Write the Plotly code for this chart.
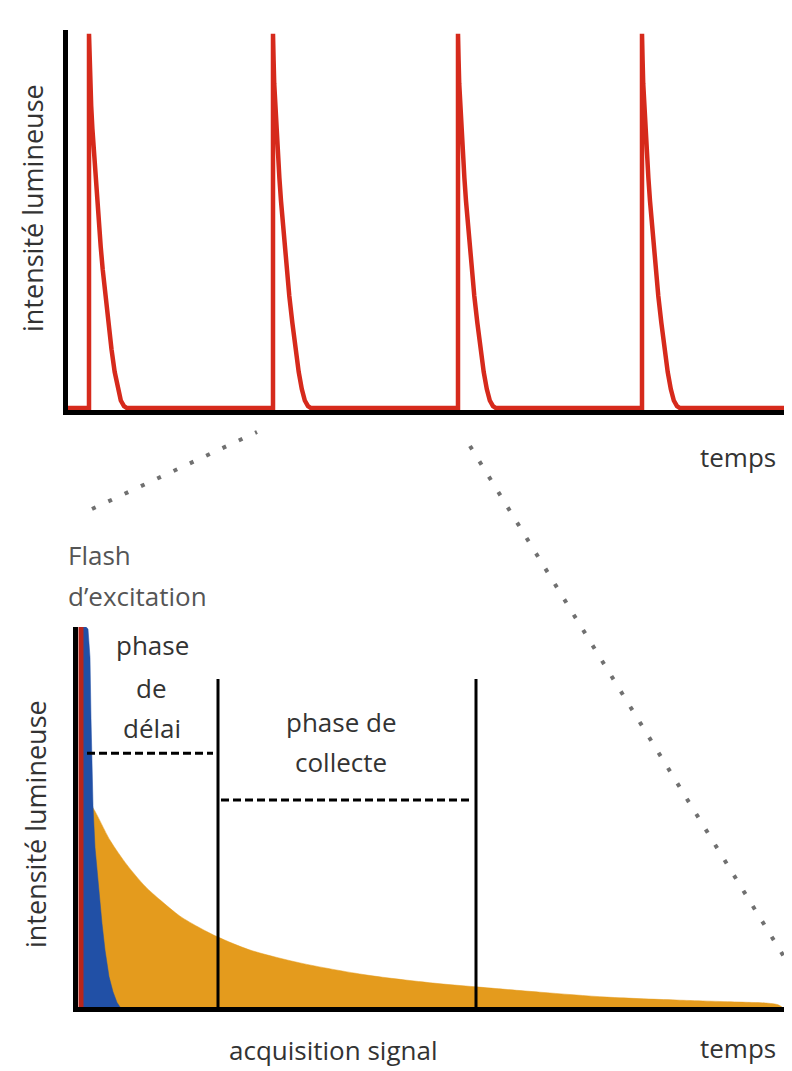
import plotly.graph_objects as go

# ---------------- data ----------------
# Top panel: repeated excitation pulses, time (a.u.) vs light intensity (0..1)
top_t = [0,
         21, 21, 21.6, 22.2, 23.2, 24.4, 25.8, 27.4, 29, 30.8, 32.7, 34.7, 37.3, 40.3, 43.5, 46.7, 49.8, 52.8, 56, 59,
         205, 205, 205.6, 206.2, 207.2, 208.4, 209.8, 211.4, 213, 214.8, 216.7, 218.7, 221.3, 224.3, 227.5, 230.7, 233.8, 236.8, 240, 243,
         390, 390, 390.6, 391.2, 392.2, 393.4, 394.8, 396.4, 398, 399.8, 401.7, 403.7, 406.3, 409.3, 412.5, 415.7, 418.8, 421.8, 425, 428,
         574, 574, 574.6, 575.2, 576.2, 577.4, 578.8, 580.4, 582, 583.8, 585.7, 587.7, 590.3, 593.3, 596.5, 599.7, 602.8, 605.8, 609, 612,
         722]
top_I = [0.005,
         0.005, 0.99, 0.92, 0.86, 0.80, 0.74, 0.68, 0.61, 0.55, 0.49, 0.43, 0.37, 0.30, 0.23, 0.16, 0.10, 0.055, 0.025, 0.01, 0.005,
         0.005, 0.99, 0.92, 0.86, 0.80, 0.74, 0.68, 0.61, 0.55, 0.49, 0.43, 0.37, 0.30, 0.23, 0.16, 0.10, 0.055, 0.025, 0.01, 0.005,
         0.005, 0.99, 0.92, 0.86, 0.80, 0.74, 0.68, 0.61, 0.55, 0.49, 0.43, 0.37, 0.30, 0.23, 0.16, 0.10, 0.055, 0.025, 0.01, 0.005,
         0.005, 0.99, 0.92, 0.86, 0.80, 0.74, 0.68, 0.61, 0.55, 0.49, 0.43, 0.37, 0.30, 0.23, 0.16, 0.10, 0.055, 0.025, 0.01, 0.005,
         0.005]

# Bottom panel (zoom on one pulse), time (a.u.) vs intensity (0..100)
flash_t = [3, 3]
flash_I = [0, 100]

fast_t = [3, 8, 10, 12, 13, 15, 17, 20, 24, 27, 31, 35, 39, 42]     # short-lived emission (blue)
fast_I = [100, 100, 99.5, 92, 76, 53, 42, 33, 22, 15, 8, 4, 1.2, 0]

slow_t = [9, 15, 32, 49, 67, 82, 102, 122, 140, 172, 222, 289, 355, 398, 462, 529, 602, 662, 690, 700, 704]  # long-lived emission (orange)
slow_I = [54.2, 52.4, 43.9, 37.4, 31.8, 28.2, 23.9, 20.8, 18.4, 15.0, 11.6, 8.4, 6.3, 5.3, 3.9, 2.6, 1.8, 1.3, 1.0, 0.6, 0]

phase_bounds = [140, 398]       # end of delay phase / end of collection phase
phase_top = 86.3
delay_span = [9, 135]
delay_level = 66.8
collect_span = [143, 395]
collect_level = 54.5

# ---------------- figure ----------------
# the page body has an 8px margin, so the figure is placed 8px right / down
OFF = 8
W, H = 792 - OFF, 1071 - OFF
def px(x):
    return (x - OFF) / W
def py(y):
    return 1 - (y - OFF) / H

FONT = "Open Sans"
TXT = "#333333"

fig = go.Figure()

# top panel
fig.add_trace(go.Scatter(x=top_t, y=top_I, mode="lines",
                         line=dict(color="#D62A1C", width=4.5),
                         xaxis="x", yaxis="y", hoverinfo="skip", showlegend=False))

# bottom panel
fig.add_trace(go.Scatter(x=slow_t, y=slow_I, mode="lines", fill="tozeroy",
                         fillcolor="#E49B1D", line=dict(color="#E49B1D", width=0.5,
                                                        shape="spline", smoothing=0.8),
                         xaxis="x2", yaxis="y2", hoverinfo="skip", showlegend=False))
fig.add_trace(go.Scatter(x=fast_t, y=fast_I, mode="lines", fill="tozeroy",
                         fillcolor="#2150A6", line=dict(color="#2150A6", width=0.5),
                         xaxis="x2", yaxis="y2", hoverinfo="skip", showlegend=False))
fig.add_trace(go.Scatter(x=flash_t, y=flash_I, mode="lines",
                         line=dict(color="#B8261C", width=5),
                         xaxis="x2", yaxis="y2", hoverinfo="skip", showlegend=False))

shapes = []
for b in phase_bounds:
    shapes.append(dict(type="line", xref="x2", yref="y2", x0=b, x1=b, y0=0, y1=phase_top,
                       line=dict(color="black", width=3)))
shapes.append(dict(type="line", xref="x2", yref="y2", x0=delay_span[0], x1=delay_span[1],
                   y0=delay_level, y1=delay_level, line=dict(color="black", width=3, dash="8px,4px")))
shapes.append(dict(type="line", xref="x2", yref="y2", x0=collect_span[0], x1=collect_span[1],
                   y0=collect_level, y1=collect_level, line=dict(color="black", width=3, dash="8px,4px")))

# dotted zoom connectors
shapes.append(dict(type="line", xref="paper", yref="paper",
                   x0=px(92), y0=py(509), x1=px(257), y1=py(432),
                   line=dict(color="#707070", width=4, dash="4px,14px")))
shapes.append(dict(type="line", xref="paper", yref="paper",
                   x0=px(470), y0=py(446), x1=px(786), y1=py(960),
                   line=dict(color="#707070", width=4, dash="4px,14px")))

ann = []
def text(t, x, y, size=26, color=TXT, xanchor="center", angle=0):
    ann.append(dict(text=t, x=px(x), y=py(y), xref="paper", yref="paper", showarrow=False,
                    xanchor=xanchor, yanchor="middle", textangle=angle,
                    font=dict(family=FONT, size=size, color=color)))

text("intensité lumineuse", 33, 208, size=27, angle=-90)
text("intensité lumineuse", 35, 824, size=27, angle=-90)
text("temps", 738, 457)
text("temps", 738, 1048)
text("acquisition signal", 333, 1050)
text("Flash", 66, 555, color="#555555", xanchor="left")
text("d’excitation", 66, 596, color="#555555", xanchor="left")
text("phase", 152, 645)
text("de", 151, 688)
text("délai", 152, 728)
text("phase de", 341, 722)
text("collecte", 341, 762)

axis_common = dict(showgrid=False, zeroline=False, showticklabels=False, ticks="",
                   showline=True, linecolor="black", linewidth=5, fixedrange=True)

fig.update_layout(
    width=W, height=H,
    margin=dict(l=0, r=0, t=0, b=0),
    paper_bgcolor="white", plot_bgcolor="white",
    showlegend=False,
    xaxis=dict(domain=[px(68), px(790)], range=[0, 722], anchor="y", **axis_common),
    yaxis=dict(domain=[py(410), py(30)], range=[0, 1], anchor="x", **axis_common),
    xaxis2=dict(domain=[px(78), px(790)], range=[0, 712], anchor="y2", **axis_common),
    yaxis2=dict(domain=[py(1007), py(627)], range=[0, 100], anchor="x2", **axis_common),
    shapes=shapes,
    annotations=ann,
)

fig.write_html("out.html")
